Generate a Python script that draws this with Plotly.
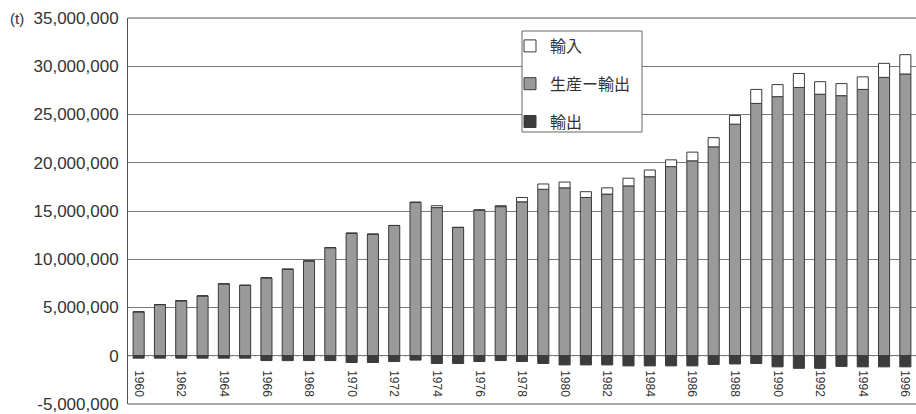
import plotly.graph_objects as go

years = list(range(1960, 1997))
# 生産ー輸出 (production minus export), tonnes
prod_minus_export = [4.55e6, 5.3e6, 5.7e6, 6.2e6, 7.45e6, 7.3e6, 8.07e6, 8.97e6, 9.83e6, 11.2e6,
                     12.7e6, 12.6e6, 13.5e6, 15.9e6, 15.35e6, 13.3e6, 15.1e6, 15.45e6, 15.95e6, 17.25e6,
                     17.4e6, 16.4e6, 16.75e6, 17.6e6, 18.55e6, 19.6e6, 20.2e6, 21.65e6, 24.0e6, 26.15e6,
                     26.85e6, 27.8e6, 27.1e6, 26.95e6, 27.6e6, 28.85e6, 29.2e6]
# 輸入 (imports)
imports = [0, 0, 0, 0, 0, 0, 0, 0, 0, 0,
           0, 0, 0, 0, 0.2e6, 0, 0, 0.1e6, 0.45e6, 0.55e6,
           0.6e6, 0.6e6, 0.65e6, 0.8e6, 0.7e6, 0.7e6, 0.9e6, 0.95e6, 0.9e6, 1.45e6,
           1.25e6, 1.45e6, 1.3e6, 1.25e6, 1.3e6, 1.45e6, 2.0e6]
# 輸出 (exports, shown negative)
exports = [-0.25e6, -0.25e6, -0.25e6, -0.25e6, -0.25e6, -0.25e6, -0.5e6, -0.5e6, -0.5e6, -0.5e6,
           -0.7e6, -0.7e6, -0.6e6, -0.45e6, -0.8e6, -0.8e6, -0.6e6, -0.5e6, -0.6e6, -0.8e6,
           -0.95e6, -0.95e6, -0.95e6, -1.05e6, -1.05e6, -1.05e6, -1.05e6, -0.9e6, -0.85e6, -0.8e6,
           -1.15e6, -1.3e6, -1.3e6, -1.1e6, -1.15e6, -1.15e6, -1.15e6]

xtick_vals = years[::2]
xtick_text = [str(y) for y in xtick_vals]
ytick_vals = [-5e6, 0, 5e6, 10e6, 15e6, 20e6, 25e6, 30e6, 35e6]
ytick_text = ["-5,000,000", "0", "5,000,000", "10,000,000", "15,000,000",
              "20,000,000", "25,000,000", "30,000,000", "35,000,000"]

outline = dict(color="#3a3a3a", width=1)
fig = go.Figure()
fig.add_trace(go.Bar(x=years, y=prod_minus_export, name="生産ー輸出",
                     marker=dict(color="#9a9a9a", line=outline), legendrank=2, legendgroup="b"))
fig.add_trace(go.Bar(x=years, y=imports, name="輸入",
                     marker=dict(color="#ffffff", line=outline), legendrank=1, legendgroup="a"))
fig.add_trace(go.Bar(x=years, y=exports, name="輸出",
                     marker=dict(color="#3c3c3c", line=outline), legendrank=3, legendgroup="c"))

fig.update_layout(
    width=916, height=414,
    margin=dict(l=128, r=0, t=18, b=10),
    paper_bgcolor="white", plot_bgcolor="white",
    barmode="relative", bargap=0.48,
    font=dict(family="Liberation Sans, Arial, sans-serif", color="#333333"),
    showlegend=True,
    legend=dict(x=(510 - 128) / 788, y=(404 - 29) / 386, xanchor="left", yanchor="top",
                bgcolor="rgba(0,0,0,0)", borderwidth=0,
                font=dict(size=16, family="Noto Sans CJK JP", color="#333333"),
                itemwidth=30, tracegroupgap=14, traceorder="grouped",
                itemclick=False),
    xaxis=dict(range=[1959.5, 1996.5], tickmode="array", tickvals=xtick_vals, ticktext=xtick_text,
               tickangle=90, tickfont=dict(size=12, color="#333333"),
               anchor="free", position=0.125, showline=False, showgrid=False, zeroline=False,
               ticks="outside", ticklen=11, tickcolor="rgba(0,0,0,0)", automargin=False),
    yaxis=dict(range=[-5e6, 35e6], tickmode="array", tickvals=ytick_vals, ticktext=ytick_text,
               tickfont=dict(size=17, color="#333333"),
               showgrid=True, gridcolor="#7a7a7a", gridwidth=1, zeroline=False,
               showline=True, linecolor="#555555", linewidth=1,
               ticks="outside", ticklen=5, tickcolor="rgba(0,0,0,0)", automargin=False),
    shapes=[
        dict(type="line", xref="paper", yref="y", x0=0, x1=1, y0=0, y1=0,
             line=dict(color="#777777", width=1, dash="dot"), layer="below"),
        dict(type="line", xref="paper", yref="paper", x0=0, x1=1, y0=0, y1=0,
             line=dict(color="#555555", width=1)),
        dict(type="line", xref="paper", yref="paper", x0=0, x1=1, y0=1, y1=1,
             line=dict(color="#555555", width=1)),
        dict(type="rect", xref="paper", yref="paper",
             x0=(522 - 128) / 788, x1=(642 - 128) / 788,
             y0=(404 - 132) / 386, y1=(404 - 31) / 386,
             fillcolor="white", line=dict(color="#666666", width=1), layer="above"),
    ],
    annotations=[dict(text="(t)", xref="paper", yref="paper", x=-0.152, y=1.0,
                      xanchor="left", yanchor="middle", showarrow=False,
                      font=dict(size=15, color="#333333"))],
)

fig.write_html("out.html", config={"displayModeBar": False},
               post_script="document.body.style.margin='0';document.body.style.overflow='hidden';")
